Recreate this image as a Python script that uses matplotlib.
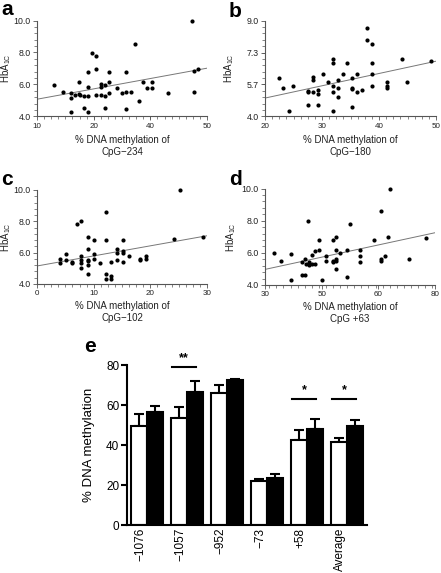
"""
HbA1c vs DNA methylation scatter panels (a-d) and bar chart (e)
"""

import numpy as np
import matplotlib
matplotlib.use("Agg")
import matplotlib.pyplot as plt
from matplotlib.ticker import MultipleLocator, FixedLocator

plt.rcParams['font.family'] = ['Liberation Sans', 'DejaVu Sans']
plt.rcParams['mathtext.default'] = 'regular'

# panel a: CpG -234
a_x = [13.95, 16.05, 17.98, 17.98, 17.98, 18.9, 19.9, 19.9, 20.2, 21.0, 21.0,
       21.9, 21.9, 21.9, 21.9, 22.9, 23.95, 23.95, 23.95, 24.96, 24.96, 25.0,
       25.9, 26.0, 26.0, 27.0, 27.0, 27.0, 28.9, 30.0, 31.0, 31.0, 31.0, 32.0,
       33.0, 33.95, 34.96, 35.97, 36.98, 36.98, 40.9, 46.5, 47.05, 47.05, 47.9]
a_y = [5.96, 5.56, 5.48, 5.17, 4.27, 5.35, 6.17, 5.42, 5.35, 5.27, 4.56,
       6.77, 5.85, 5.27, 4.27, 7.98, 7.79, 6.98, 5.35, 6.06, 5.85, 5.35,
       5.96, 5.27, 4.56, 6.77, 6.17, 5.48, 5.77, 5.48, 6.77, 5.56, 4.46, 5.56,
       8.56, 4.96, 6.17, 5.77, 6.17, 5.77, 5.48, 10.0, 6.85, 5.56, 6.98]
a_fit = ([10, 50], [5.08, 7.02])

# panel b: CpG -180
b_x = [22.4, 23.2, 24.15, 24.97, 27.6, 27.6, 27.6, 28.4, 28.4, 28.4, 29.3,
       29.3, 29.3, 30.1, 31.0, 31.9, 31.9, 31.9, 31.9, 31.9, 32.75, 32.75,
       32.75, 33.6, 34.4, 35.3, 35.3, 35.3, 35.3, 36.2, 36.2, 37.1, 37.95,
       37.95, 38.8, 38.8, 38.8, 38.8, 41.35, 41.35, 41.35, 43.98, 44.85, 49.1]
b_y = [6.01, 5.49, 4.28, 5.60, 5.35, 5.28, 4.61, 6.08, 5.89, 5.28, 5.39,
       5.18, 4.61, 6.19, 5.81, 7.0, 6.80, 5.60, 5.28, 4.28, 5.89, 5.49,
       5.0, 6.19, 6.80, 6.01, 5.49, 5.42, 4.49, 6.19, 5.28, 5.39, 8.60,
       8.01, 7.80, 6.80, 6.19, 5.60, 5.81, 5.61, 5.51, 7.0, 5.81, 6.90]
b_fit = ([20, 50], [4.96, 6.88])

# panel c: CpG -102
c_x = [4.04, 4.04, 5.1, 5.1, 6.09, 6.09, 7.03, 7.83, 7.83, 7.83, 7.83, 7.83,
       9.08, 9.08, 9.08, 9.08, 9.08, 9.08, 10.08, 10.08, 10.08, 11.13, 12.13,
       12.13, 12.13, 12.13, 13.13, 13.13, 13.13, 14.18, 14.18, 14.18, 15.18,
       15.18, 15.18, 15.18, 16.17, 18.22, 18.22, 19.22, 19.22, 24.26, 25.3, 29.3]
c_y = [5.60, 5.32, 5.91, 5.53, 5.40, 5.32, 7.81, 8.0, 5.81, 5.53, 5.32, 5.02,
       7.0, 6.21, 5.53, 5.45, 5.21, 4.62, 6.79, 5.89, 5.60, 5.32, 8.60,
       6.79, 4.62, 4.32, 5.43, 4.51, 4.32, 6.21, 6.0, 5.51, 6.79,
       6.13, 6.0, 5.40, 5.81, 5.60, 5.51, 5.81, 5.60, 6.87, 10.0, 7.0]
c_fit = ([0, 30], [5.15, 7.08])

# panel d: CpG +63
d_x = [32.75, 34.7, 37.75, 37.75, 40.8, 40.8, 41.8, 41.8, 41.96, 42.75, 42.85,
       42.85, 43.8, 43.8, 44.8, 44.8, 45.9, 45.9, 46.9, 47.9, 47.9, 49.9, 49.9,
       49.9, 51.0, 51.0, 51.0, 51.0, 51.0, 51.96, 54.0, 54.0, 55.0, 58.0, 58.0,
       58.0, 62.1, 64.0, 64.0, 64.0, 65.2, 66.1, 66.7, 72.25, 77.35]
d_y = [6.01, 5.51, 5.90, 4.33, 5.41, 4.60, 5.59, 4.60, 5.30, 7.99, 5.41,
       5.22, 5.88, 5.30, 6.09, 5.30, 6.79, 6.19, 4.33, 5.78, 5.51, 6.79, 5.51,
       5.41, 7.0, 6.19, 5.59, 5.51, 5.01, 6.01, 4.50, 6.19, 7.81, 6.19, 5.80,
       5.41, 6.79, 8.57, 5.59, 5.51, 5.80, 7.0, 10.0, 5.59, 6.90]
d_fit = ([30, 80], [4.97, 7.25])

# panel e: bar chart
sites = ['\u22121076', '\u22121057', '\u2212952', '\u221273', '+58', 'Average']
white_mean = [49.5, 53.6, 66.0, 21.9, 42.7, 41.4]
white_err = [5.9, 5.2, 3.8, 1.0, 5.0, 2.0]
black_mean = [56.3, 66.5, 72.7, 23.6, 47.9, 49.7]
black_err = [3.1, 5.7, 0.4, 1.7, 5.1, 2.7]
sig_groups = [1, 4, 5]
sig_text = ['**', '*', '*']
sig_height = [79, 63, 63]


def scatter_panel(fig, rect, xs, ys, fit, xlim, xticks, xticklabels, ylim,
                  yticks, yticklabels, xminor, yminor, cpg, ylab_x, xlab_y):
    ax = fig.add_axes(rect)
    ax.plot(fit[0], fit[1], color='#777777', lw=0.7, zorder=1)
    ax.plot(xs, ys, 'o', color='black', ms=3.0, mew=0, zorder=2, clip_on=False)
    ax.set_xlim(*xlim)
    ax.set_ylim(*ylim)
    ax.xaxis.set_major_locator(FixedLocator(xticks))
    ax.set_xticklabels(xticklabels, fontsize=5.8, color='#222222')
    ax.yaxis.set_major_locator(FixedLocator(yticks))
    ax.set_yticklabels(yticklabels, fontsize=6.3, color='#222222')
    ax.xaxis.set_minor_locator(MultipleLocator(xminor))
    ax.yaxis.set_minor_locator(MultipleLocator(yminor))
    for s in ['top', 'right']:
        ax.spines[s].set_visible(False)
    for s in ['left', 'bottom']:
        ax.spines[s].set_color('#555555')
        ax.spines[s].set_linewidth(0.8)
    ax.tick_params(which='major', length=3, width=0.6, color='#555555', pad=1.5)
    ax.tick_params(which='minor', length=2, width=0.5, color='#555555')
    ax.set_ylabel('HbA$_{1C}$', fontsize=7, color='#222222')
    ax.yaxis.set_label_coords(ylab_x, 0.5)
    ax.set_xlabel('% DNA methylation of\n' + cpg, fontsize=7, color='#222222',
                  linespacing=1.25)
    ax.xaxis.set_label_coords(0.5, xlab_y)
    return ax


def main():
    fig = plt.figure(figsize=(4.41, 5.73), dpi=100)
    W, H = 441.0, 573.0

    def rect(l, t, r, b):
        return [l / W, 1 - b / H, (r - l) / W, (b - t) / H]

    scatter_panel(fig, rect(37, 20.5, 207, 116.5), a_x, a_y, a_fit, (10, 50),
                  [10, 23.33, 36.67, 50], ['10', '20', '40', '50'], (4, 10),
                  [4, 6, 8, 10], ['4.0', '6.0', '8.0', '10.0'], 40 / 24, 0.4,
                  'CpG\u2212234', -0.14, -0.19)
    scatter_panel(fig, rect(265, 20.5, 436, 116.5), b_x, b_y, b_fit, (20, 50),
                  [20, 30, 40, 50], ['20', '30', '40', '50'], (4, 9),
                  [4, 5.667, 7.333, 9], ['4.0', '5.7', '7.3', '9.0'], 1.25, 1 / 3,
                  'CpG\u2212180', -0.17, -0.19)
    scatter_panel(fig, rect(37, 190, 207, 284), c_x, c_y, c_fit, (0, 30),
                  [0, 10, 20, 30], ['0', '10', '20', '30'], (4, 10),
                  [4, 6, 8, 10], ['4.0', '6.0', '8.0', '10.0'], 1.25, 0.4,
                  'CpG\u2212102', -0.14, -0.18)
    scatter_panel(fig, rect(265, 188.5, 435, 285), d_x, d_y, d_fit, (30, 80),
                  [30, 46.67, 63.33, 80], ['30', '50', '60', '80'], (4, 10),
                  [4, 6, 8, 10], ['4.0', '6.0', '8.0', '10.0'], 50 / 24, 0.4,
                  'CpG +63', -0.16, -0.18)

    # panel e
    ax = fig.add_axes(rect(127, 365, 367, 525))
    x = np.arange(len(sites))
    w = 0.4
    ax.bar(x - w / 2, white_mean, w, color='white', edgecolor='black', lw=1.5, zorder=2)
    ax.bar(x + w / 2, black_mean, w, color='black', edgecolor='black', lw=1.5, zorder=2)
    ax.errorbar(x - w / 2, white_mean, yerr=[np.zeros(len(x)), white_err], fmt='none',
                ecolor='black', elinewidth=1.5, capsize=3.5, capthick=1.5, zorder=1)
    ax.errorbar(x + w / 2, black_mean, yerr=[np.zeros(len(x)), black_err], fmt='none',
                ecolor='black', elinewidth=1.5, capsize=3.5, capthick=1.5, zorder=1)
    for g, t, h in zip(sig_groups, sig_text, sig_height):
        ax.plot([g - 0.37, g + 0.23], [h, h], color='black', lw=1.5, clip_on=False)
        ax.text(g - 0.07, h + 1.5, t, ha='center', va='bottom', fontsize=9,
                fontweight='bold')
    ax.set_xlim(-0.5, 5.5)
    ax.set_ylim(0, 80)
    ax.set_yticks([0, 20, 40, 60, 80])
    ax.tick_params(axis='y', labelsize=8.5, length=4, width=1.5, pad=1.5)
    ax.set_xticks(x - 0.17)
    ax.set_xticklabels(sites, rotation=90, fontsize=8.5)
    ax.tick_params(axis='x', length=0, pad=2)
    for s in ['top', 'right']:
        ax.spines[s].set_visible(False)
    for s in ['left', 'bottom']:
        ax.spines[s].set_linewidth(1.5)
    ax.set_ylabel('% DNA methylation', fontsize=9.5)
    ax.yaxis.set_label_coords(-0.135, 0.5)

    # panel letters
    for letter, px, py in [('a', 1, 15), ('b', 229, 17), ('c', 1, 185),
                           ('d', 229, 185), ('e', 84, 352)]:
        fig.text(px / W, 1 - py / H, letter, fontsize=15, fontweight='bold',
                 ha='left', va='baseline')

    fig.savefig('out.png', dpi=100)


if __name__ == '__main__':
    main()
